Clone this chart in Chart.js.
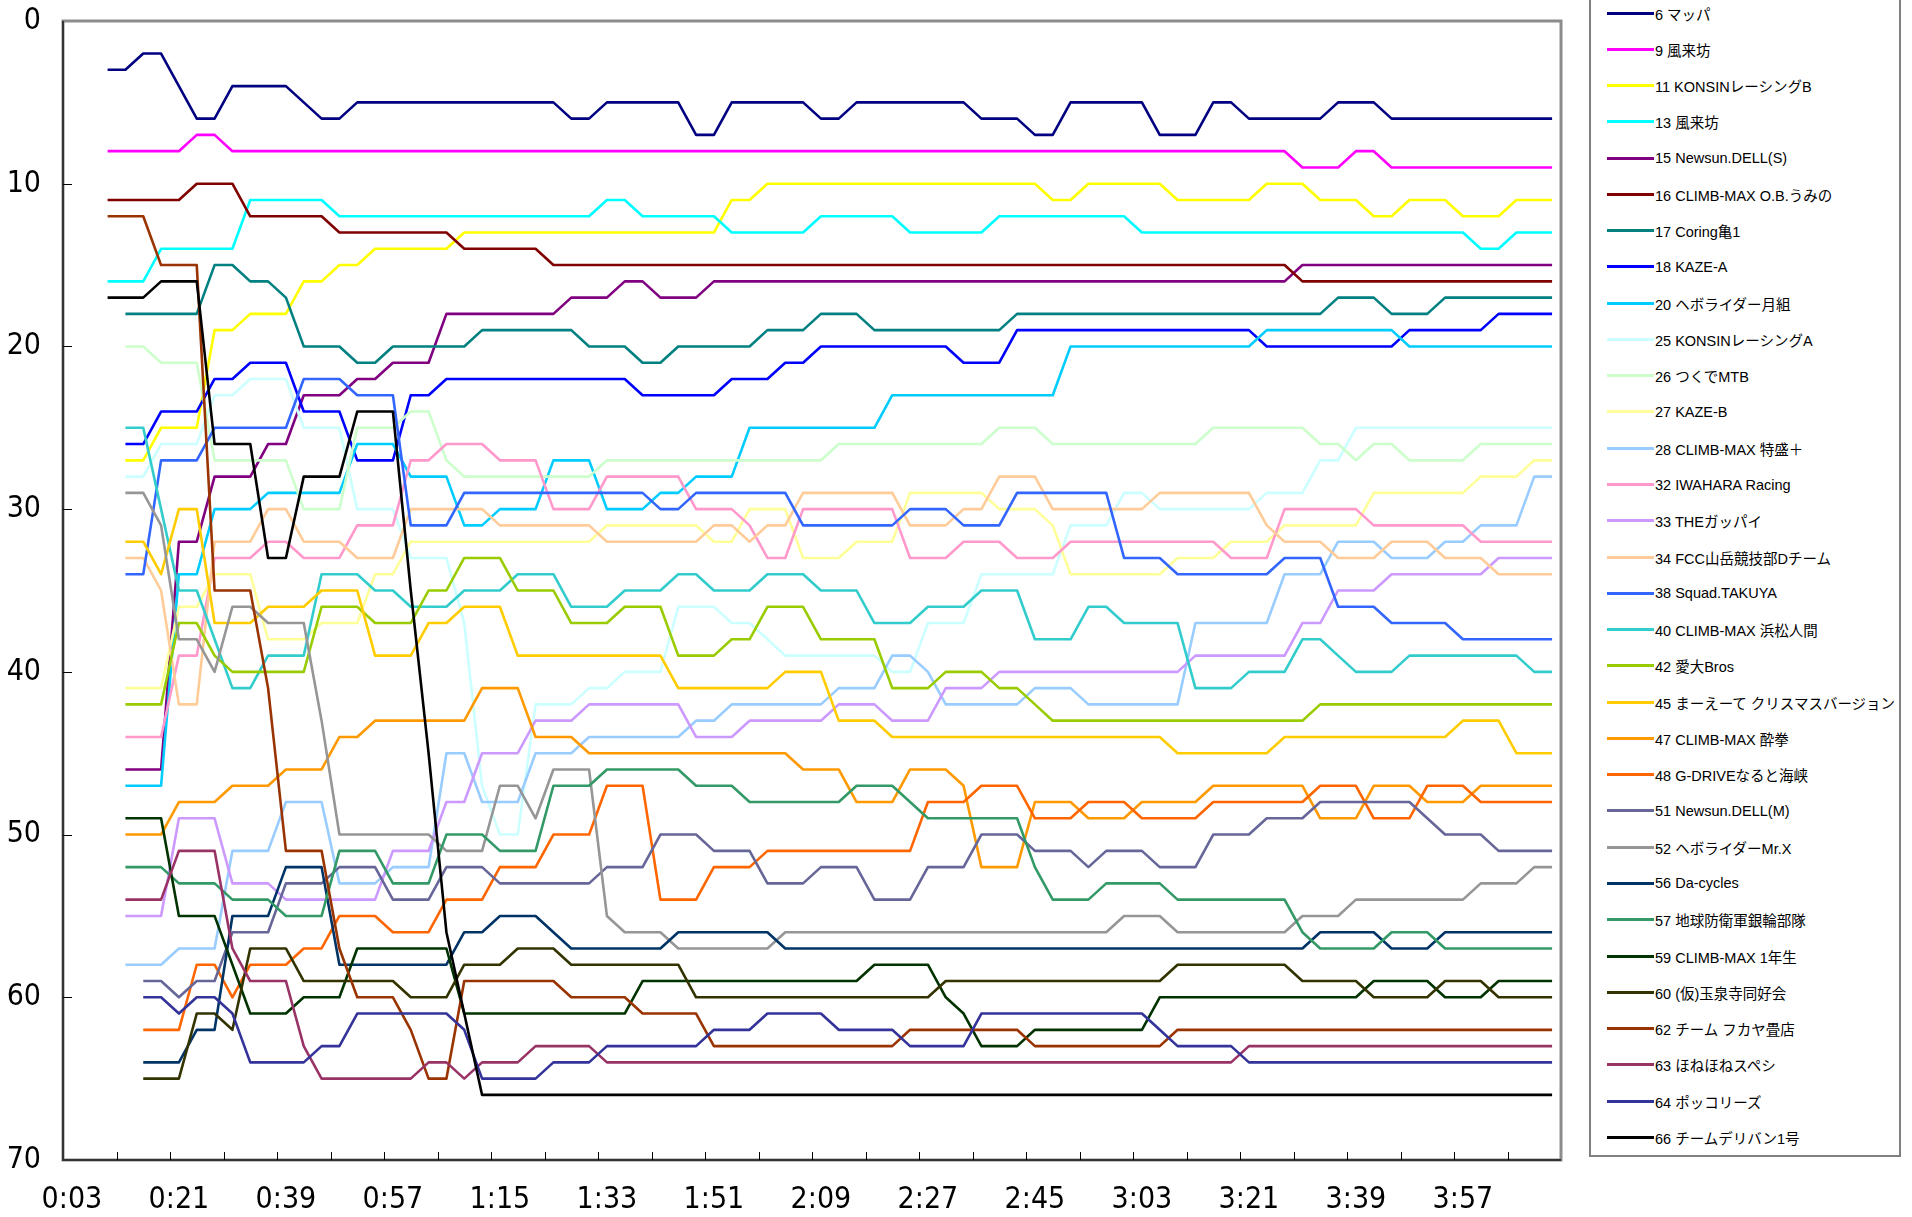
<!DOCTYPE html>
<html>
<head>
<meta charset="utf-8">
<script src="https://cdn.jsdelivr.net/npm/chart.js@4.4.1/dist/chart.umd.min.js"></script>
<style>
  html, body { margin: 0; padding: 0; background: #fff; overflow: hidden; }
  #wrap { position: relative; width: 1912px; height: 1217px; }
  #chart { position: absolute; left: 0; top: 0; }
  #legend {
    position: absolute; left: 1589px; top: -6px; width: 312px; height: 1163px;
    box-sizing: border-box; border: 2px solid #808080; background: #fff;
    font-family: "Liberation Sans", Arial, "Noto Sans CJK JP", sans-serif; font-size: 14.5px; color: #000;
  }
  #legend .item { position: absolute; left: 0; height: 20px; display: flex; align-items: center; white-space: nowrap; }
  #legend .swatch { display: inline-block; width: 47px; height: 3px; margin-left: 16px; margin-right: 1px; }
</style>
</head>
<body>
<div id="wrap">
  <canvas id="chart" width="1912" height="1217"></canvas>
  <div id="legend"></div>
</div>
<script>
const _ = null;

// elapsed race time, one category every 3 minutes
const timeLabels = [
  '0:03','0:06','0:09','0:12','0:15','0:18','0:21','0:24','0:27','0:30',
  '0:33','0:36','0:39','0:42','0:45','0:48','0:51','0:54','0:57','1:00',
  '1:03','1:06','1:09','1:12','1:15','1:18','1:21','1:24','1:27','1:30',
  '1:33','1:36','1:39','1:42','1:45','1:48','1:51','1:54','1:57','2:00',
  '2:03','2:06','2:09','2:12','2:15','2:18','2:21','2:24','2:27','2:30',
  '2:33','2:36','2:39','2:42','2:45','2:48','2:51','2:54','2:57','3:00',
  '3:03','3:06','3:09','3:12','3:15','3:18','3:21','3:24','3:27','3:30',
  '3:33','3:36','3:39','3:42','3:45','3:48','3:51','3:54','3:57','4:00',
  '4:03','4:06','4:09','4:12'
];

const teamNames = [
  '6 マッパ', '9 風来坊', '11 KONSINレーシングB', '13 風来坊', '15 Newsun.DELL(S)',
  '16 CLIMB-MAX O.B.うみの', '17 Coring亀1', '18 KAZE-A', '20 ヘボライダー月組', '25 KONSINレーシングA',
  '26 つくでMTB', '27 KAZE-B', '28 CLIMB-MAX 特盛＋', '32 IWAHARA Racing', '33 THEガッパイ',
  '34 FCC山岳競技部Dチーム', '38 Squad.TAKUYA', '40 CLIMB-MAX 浜松人間', '42 愛大Bros', '45 まーえーて クリスマスバージョン',
  '47 CLIMB-MAX 酔拳', '48 G-DRIVEなると海峡', '51 Newsun.DELL(M)', '52 ヘボライダーMr.X', '56 Da-cycles',
  '57 地球防衛軍銀輪部隊', '59 CLIMB-MAX  1年生', '60 (仮)玉泉寺同好会', '62 チーム フカヤ畳店', '63 ほねほねスペシ',
  '64 ポッコリーズ', '66 チームデリバン1号'
];

const teamColors = [
  '#000080', '#FF00FF', '#FFFF00', '#00FFFF', '#800080',
  '#800000', '#008080', '#0000FF', '#00CCFF', '#CCFFFF',
  '#CCFFCC', '#FFFF99', '#99CCFF', '#FF99CC', '#CC99FF',
  '#FFCC99', '#3366FF', '#33CCCC', '#99CC00', '#FFCC00',
  '#FF9900', '#FF6600', '#666699', '#969696', '#003366',
  '#339966', '#003300', '#333300', '#993300', '#993366',
  '#333399', '#000000'
];

// position of each team at each time (blank before its first reading)
const pos6 = [_,_,3,3,2,2,4,6,6,4, 4,4,4,5,6,6,5,5,5,5, 5,5,5,5,5,5,5,5,6,6, 5,5,5,5,5,7,7,5,5,5, 5,5,6,6,5,5,5,5,5,5, 5,6,6,6,7,7,5,5,5,5, 5,7,7,7,5,5,6,6,6,6, 6,5,5,5,6,6,6,6,6,6, 6,6,6,6];
const pos9 = [_,_,8,8,8,8,8,7,7,8, 8,8,8,8,8,8,8,8,8,8, 8,8,8,8,8,8,8,8,8,8, 8,8,8,8,8,8,8,8,8,8, 8,8,8,8,8,8,8,8,8,8, 8,8,8,8,8,8,8,8,8,8, 8,8,8,8,8,8,8,8,8,9, 9,9,8,8,9,9,9,9,9,9, 9,9,9,9];
const pos11 = [_,_,_,27,27,25,25,25,19,19, 18,18,18,16,16,15,15,14,14,14, 14,14,13,13,13,13,13,13,13,13, 13,13,13,13,13,13,13,11,11,10, 10,10,10,10,10,10,10,10,10,10, 10,10,10,10,10,11,11,10,10,10, 10,10,11,11,11,11,11,10,10,10, 11,11,11,12,12,11,11,11,12,12, 12,11,11,11];
const pos13 = [_,_,16,16,16,14,14,14,14,14, 11,11,11,11,11,12,12,12,12,12, 12,12,12,12,12,12,12,12,12,12, 11,11,12,12,12,12,12,13,13,13, 13,13,12,12,12,12,12,13,13,13, 13,13,12,12,12,12,12,12,12,12, 13,13,13,13,13,13,13,13,13,13, 13,13,13,13,13,13,13,13,13,14, 14,13,13,13];
const pos15 = [_,_,_,46,46,46,32,32,28,28, 28,26,26,23,23,23,22,22,21,21, 21,18,18,18,18,18,18,18,17,17, 17,16,16,17,17,17,16,16,16,16, 16,16,16,16,16,16,16,16,16,16, 16,16,16,16,16,16,16,16,16,16, 16,16,16,16,16,16,16,16,16,15, 15,15,15,15,15,15,15,15,15,15, 15,15,15,15];
const pos16 = [_,_,11,11,11,11,11,10,10,10, 12,12,12,12,12,13,13,13,13,13, 13,13,14,14,14,14,14,15,15,15, 15,15,15,15,15,15,15,15,15,15, 15,15,15,15,15,15,15,15,15,15, 15,15,15,15,15,15,15,15,15,15, 15,15,15,15,15,15,15,15,15,16, 16,16,16,16,16,16,16,16,16,16, 16,16,16,16];
const pos17 = [_,_,_,18,18,18,18,18,15,15, 16,16,17,20,20,20,21,21,20,20, 20,20,20,19,19,19,19,19,19,20, 20,20,21,21,20,20,20,20,20,19, 19,19,18,18,18,19,19,19,19,19, 19,19,19,18,18,18,18,18,18,18, 18,18,18,18,18,18,18,18,18,18, 18,17,17,17,18,18,18,17,17,17, 17,17,17,17];
const pos18 = [_,_,_,26,26,24,24,24,22,22, 21,21,21,24,24,24,27,27,27,23, 23,22,22,22,22,22,22,22,22,22, 22,22,23,23,23,23,23,22,22,22, 21,21,20,20,20,20,20,20,20,20, 21,21,21,19,19,19,19,19,19,19, 19,19,19,19,19,19,19,20,20,20, 20,20,20,20,20,19,19,19,19,19, 18,18,18,18];
const pos20 = [_,_,_,47,47,47,34,34,30,30, 30,29,29,29,29,29,26,26,26,28, 28,28,31,31,30,30,30,27,27,27, 30,30,30,29,29,28,28,28,25,25, 25,25,25,25,25,25,23,23,23,23, 23,23,23,23,23,23,20,20,20,20, 20,20,20,20,20,20,20,19,19,19, 19,19,19,19,19,20,20,20,20,20, 20,20,20,20];
const pos25 = [_,_,_,28,28,26,26,26,23,23, 22,22,22,25,25,25,30,30,30,33, 33,33,37,47,50,50,42,42,42,41, 41,40,40,40,36,36,36,37,37,38, 39,39,39,39,39,39,40,40,37,37, 37,34,34,34,34,34,31,31,31,29, 29,30,30,30,30,30,30,29,29,29, 27,27,25,25,25,25,25,25,25,25, 25,25,25,25];
const pos26 = [_,_,_,20,20,21,21,21,27,27, 27,27,27,30,30,30,25,25,25,24, 24,27,28,28,28,28,28,28,28,28, 27,27,27,27,27,27,27,27,27,27, 27,27,27,26,26,26,26,26,26,26, 26,26,25,25,25,26,26,26,26,26, 26,26,26,26,25,25,25,25,25,25, 26,26,27,26,26,27,27,27,27,26, 26,26,26,26];
const pos27 = [_,_,_,41,41,41,36,36,34,34, 34,38,38,38,37,37,37,34,34,32, 32,32,32,32,32,32,32,32,32,32, 31,31,31,31,31,31,32,32,30,30, 30,33,33,33,32,32,32,29,29,29, 29,29,30,30,30,31,34,34,34,34, 34,34,33,33,33,32,32,32,31,31, 31,31,31,29,29,29,29,29,29,28, 28,28,27,27];
const pos28 = [_,_,_,58,58,58,57,57,57,51, 51,51,48,48,48,53,53,53,52,52, 52,45,45,48,48,48,45,45,45,44, 44,44,44,44,44,43,43,42,42,42, 42,42,42,41,41,41,39,39,40,42, 42,42,42,42,41,41,41,42,42,42, 42,42,42,37,37,37,37,37,34,34, 34,32,32,32,33,33,33,32,32,31, 31,31,28,28];
const pos32 = [_,_,_,44,44,44,39,39,33,33, 33,32,32,33,33,33,31,31,31,27, 27,26,26,26,27,27,27,30,30,30, 28,28,28,28,28,30,30,30,31,33, 33,30,30,30,30,30,30,33,33,33, 32,32,32,33,33,33,32,32,32,32, 32,32,32,32,32,33,33,33,30,30, 30,30,30,31,31,31,31,31,31,32, 32,32,32,32];
const pos33 = [_,_,_,55,55,55,49,49,49,53, 53,53,54,54,54,54,54,54,51,51, 51,48,48,45,45,45,43,43,43,42, 42,42,42,42,42,44,44,44,43,43, 43,43,43,42,42,42,43,43,43,41, 41,41,40,40,40,40,40,40,40,40, 40,40,40,39,39,39,39,39,39,37, 37,35,35,35,34,34,34,34,34,34, 33,33,33,33];
const pos34 = [_,_,_,33,33,35,42,42,32,32, 32,30,30,32,32,32,33,33,33,30, 30,30,30,30,31,31,31,31,31,31, 32,32,32,32,32,32,31,31,32,31, 31,29,29,29,29,29,29,31,31,31, 30,30,28,28,28,30,30,30,30,30, 30,29,29,29,29,29,29,31,32,32, 32,33,33,33,32,32,32,33,33,33, 34,34,34,34];
const pos38 = [_,_,_,34,34,27,27,27,25,25, 25,25,25,22,22,22,23,23,23,31, 31,31,29,29,29,29,29,29,29,29, 29,29,29,30,30,29,29,29,29,29, 29,31,31,31,31,31,31,30,30,30, 31,31,31,29,29,29,29,29,29,33, 33,33,34,34,34,34,34,34,33,33, 33,36,36,36,37,37,37,37,38,38, 38,38,38,38];
const pos40 = [_,_,_,25,25,30,35,35,38,41, 41,39,39,39,34,34,34,35,35,36, 36,36,35,35,35,34,34,34,36,36, 36,35,35,35,34,34,35,35,35,34, 34,34,35,35,35,37,37,37,36,36, 36,35,35,35,38,38,38,36,36,37, 37,37,37,41,41,41,40,40,40,38, 38,39,40,40,40,39,39,39,39,39, 39,39,40,40];
const pos42 = [_,_,_,42,42,42,37,37,39,40, 40,40,40,40,36,36,36,37,37,37, 35,35,33,33,33,35,35,35,37,37, 37,36,36,36,39,39,39,38,38,36, 36,36,38,38,38,38,41,41,41,40, 40,40,41,41,42,43,43,43,43,43, 43,43,43,43,43,43,43,43,43,43, 42,42,42,42,42,42,42,42,42,42, 42,42,42,42];
const pos45 = [_,_,_,32,32,34,30,30,37,37, 37,36,36,36,35,35,35,39,39,39, 37,37,36,36,36,39,39,39,39,39, 39,39,39,39,41,41,41,41,41,41, 40,40,40,43,43,43,44,44,44,44, 44,44,44,44,44,44,44,44,44,44, 44,44,45,45,45,45,45,45,44,44, 44,44,44,44,44,44,44,44,43,43, 43,45,45,45];
const pos47 = [_,_,_,50,50,50,48,48,48,47, 47,47,46,46,46,44,44,43,43,43, 43,43,43,41,41,41,44,44,44,45, 45,45,45,45,45,45,45,45,45,45, 45,46,46,46,48,48,48,46,46,46, 47,52,52,52,48,48,48,49,49,49, 48,48,48,48,47,47,47,47,47,47, 49,49,49,47,47,47,48,48,48,47, 47,47,47,47];
const pos48 = [_,_,_,_,62,62,62,58,58,60, 58,58,58,57,57,55,55,55,56,56, 56,54,54,54,52,52,52,50,50,50, 47,47,47,54,54,54,52,52,52,51, 51,51,51,51,51,51,51,51,48,48, 48,47,47,47,49,49,49,48,48,48, 49,49,49,49,48,48,48,48,48,48, 47,47,47,49,49,49,47,47,47,48, 48,48,48,48];
const pos51 = [_,_,_,_,59,59,60,59,59,56, 56,56,53,53,53,52,52,52,54,54, 54,52,52,52,53,53,53,53,53,53, 52,52,52,50,50,50,51,51,51,53, 53,53,52,52,52,54,54,54,52,52, 52,50,50,50,51,51,51,52,51,51, 51,52,52,52,50,50,50,49,49,49, 48,48,48,48,48,48,49,50,50,50, 51,51,51,51];
const pos52 = [_,_,_,29,29,31,38,38,40,36, 36,37,37,37,43,50,50,50,50,50, 50,51,51,51,47,47,49,46,46,46, 55,56,56,56,57,57,57,57,57,57, 56,56,56,56,56,56,56,56,56,56, 56,56,56,56,56,56,56,56,56,55, 55,55,56,56,56,56,56,56,56,55, 55,55,54,54,54,54,54,54,54,53, 53,53,52,52];
const pos56 = [_,_,_,_,64,64,64,62,62,55, 55,55,52,52,52,58,58,58,58,58, 58,58,56,56,55,55,55,56,57,57, 57,57,57,57,56,56,56,56,56,56, 57,57,57,57,57,57,57,57,57,57, 57,57,57,57,57,57,57,57,57,57, 57,57,57,57,57,57,57,57,57,57, 56,56,56,56,57,57,57,56,56,56, 56,56,56,56];
const pos57 = [_,_,_,52,52,52,53,53,53,54, 54,54,55,55,55,51,51,51,53,53, 53,50,50,50,51,51,51,47,47,47, 46,46,46,46,46,47,47,47,48,48, 48,48,48,48,47,47,47,48,49,49, 49,49,49,49,52,54,54,54,53,53, 53,53,54,54,54,54,54,54,54,56, 57,57,57,57,56,56,56,57,57,57, 57,57,57,57];
const pos59 = [_,_,_,49,49,49,55,55,55,58, 61,61,61,60,60,60,57,57,57,57, 57,57,61,61,61,61,61,61,61,61, 61,61,59,59,59,59,59,59,59,59, 59,59,59,59,59,58,58,58,58,60, 61,63,63,63,62,62,62,62,62,62, 62,60,60,60,60,60,60,60,60,60, 60,60,60,59,59,59,59,60,60,60, 59,59,59,59];
const pos60 = [_,_,_,_,65,65,65,61,61,62, 57,57,57,59,59,59,59,59,59,60, 60,60,58,58,58,57,57,57,58,58, 58,58,58,58,58,60,60,60,60,60, 60,60,60,60,60,60,60,60,60,59, 59,59,59,59,59,59,59,59,59,59, 59,59,58,58,58,58,58,58,58,59, 59,59,59,60,60,60,60,59,59,59, 60,60,60,60];
const pos62 = [_,_,12,12,12,15,15,15,35,35, 35,41,51,51,51,57,60,60,60,62, 65,65,59,59,59,59,59,59,60,60, 60,60,61,61,61,61,63,63,63,63, 63,63,63,63,63,63,63,62,62,62, 62,62,62,62,63,63,63,63,63,63, 63,63,62,62,62,62,62,62,62,62, 62,62,62,62,62,62,62,62,62,62, 62,62,62,62];
const pos63 = [_,_,_,54,54,54,51,51,51,57, 59,59,59,63,65,65,65,65,65,65, 64,64,65,64,64,64,63,63,63,63, 64,64,64,64,64,64,64,64,64,64, 64,64,64,64,64,64,64,64,64,64, 64,64,64,64,64,64,64,64,64,64, 64,64,64,64,64,64,63,63,63,63, 63,63,63,63,63,63,63,63,63,63, 63,63,63,63];
const pos64 = [_,_,_,_,60,60,61,60,60,61, 64,64,64,64,63,63,61,61,61,61, 61,61,62,65,65,65,65,64,64,64, 63,63,63,63,63,63,62,62,62,61, 61,61,61,62,62,62,62,63,63,63, 63,61,61,61,61,61,61,61,61,61, 61,62,63,63,63,63,64,64,64,64, 64,64,64,64,64,64,64,64,64,64, 64,64,64,64];
const pos66 = [_,_,17,17,17,16,16,16,26,26, 26,33,33,28,28,28,24,24,24,35, 45,56,61,66,66,66,66,66,66,66, 66,66,66,66,66,66,66,66,66,66, 66,66,66,66,66,66,66,66,66,66, 66,66,66,66,66,66,66,66,66,66, 66,66,66,66,66,66,66,66,66,66, 66,66,66,66,66,66,66,66,66,66, 66,66,66,66];

const positions = [
  pos6, pos9, pos11, pos13, pos15, pos16, pos17, pos18, pos20, pos25,
  pos26, pos27, pos28, pos32, pos33, pos34, pos38, pos40, pos42, pos45,
  pos47, pos48, pos51, pos52, pos56, pos57, pos59, pos60, pos62, pos63,
  pos64, pos66
];

const axisFont = '"Liberation Sans Narrow", "Arial Narrow", "DejaVu Sans Condensed", sans-serif';

// frame of the plot area and the short inward tick marks, Excel style
const plotFrame = {
  id: 'plotFrame',
  afterDatasetsDraw(chart) {
    const { ctx, chartArea: a, scales } = chart;
    const xs = scales.x, ys = scales.y;
    ctx.save();
    ctx.strokeStyle = '#8c8c8c';
    ctx.lineWidth = 3;
    ctx.strokeRect(a.left, a.top, a.right - a.left, a.bottom - a.top);
    ctx.strokeStyle = '#333';
    ctx.lineWidth = 2;
    ctx.beginPath();
    ctx.moveTo(a.left, a.top);
    ctx.lineTo(a.left, a.bottom);
    ctx.lineTo(a.right, a.bottom);
    ctx.stroke();
    ctx.lineWidth = 1;
    ctx.strokeStyle = '#000';
    ctx.beginPath();
    for (let i = 3; i < timeLabels.length; i += 3) {
      const x = Math.round((xs.getPixelForValue(i - 1) + xs.getPixelForValue(i)) / 2) + 0.5;
      ctx.moveTo(x, a.bottom);
      ctx.lineTo(x, a.bottom - 8);
    }
    for (let v = 10; v < 70; v += 10) {
      const y = Math.round(ys.getPixelForValue(v)) + 0.5;
      ctx.moveTo(a.left, y);
      ctx.lineTo(a.left + 9, y);
    }
    ctx.stroke();
    ctx.restore();
  }
};

const chart = new Chart(document.getElementById('chart').getContext('2d'), {
  type: 'line',
  data: {
    labels: timeLabels,
    datasets: positions.map((values, i) => ({
      label: teamNames[i],
      data: values,
      borderColor: teamColors[i],
      backgroundColor: teamColors[i],
      borderWidth: 2.6,
      pointRadius: 0,
      tension: 0,
      fill: false,
      borderJoinStyle: 'round',
      order: positions.length - i
    }))
  },
  options: {
    responsive: false,
    animation: false,
    layout: { padding: { left: 0, right: 351, top: 21, bottom: 0 } },
    plugins: { legend: { display: false }, tooltip: { enabled: false } },
    scales: {
      x: {
        type: 'category',
        offset: true,
        grid: { display: false, drawTicks: false },
        border: { display: false },
        afterFit: (scale) => { scale.height = 57; scale.paddingLeft = 0; scale.paddingRight = 0; },
        ticks: {
          autoSkip: false,
          maxRotation: 0,
          padding: 22,
          color: '#000',
          font: { family: axisFont, size: 30 },
          callback: (value, index) => (index % 6 === 0 ? timeLabels[index] : null)
        }
      },
      y: {
        reverse: true,
        min: 0,
        max: 70,
        grid: { display: false, drawTicks: false },
        border: { display: false },
        afterFit: (scale) => { scale.width = 63; scale.paddingTop = 0; scale.paddingBottom = 0; },
        ticks: {
          stepSize: 10,
          padding: 22,
          color: '#000',
          font: { family: axisFont, size: 30 }
        }
      }
    }
  },
  plugins: [plotFrame]
});

// legend box on the right, built from the chart's datasets
const legendBox = document.getElementById('legend');
chart.data.datasets.forEach((ds, i) => {
  const item = document.createElement('div');
  item.className = 'item';
  item.style.top = (7 + i * 36.27) + 'px';
  const swatch = document.createElement('span');
  swatch.className = 'swatch';
  swatch.style.background = ds.borderColor;
  const text = document.createElement('span');
  text.textContent = ds.label;
  item.appendChild(swatch);
  item.appendChild(text);
  legendBox.appendChild(item);
});
</script>
</body>
</html>
